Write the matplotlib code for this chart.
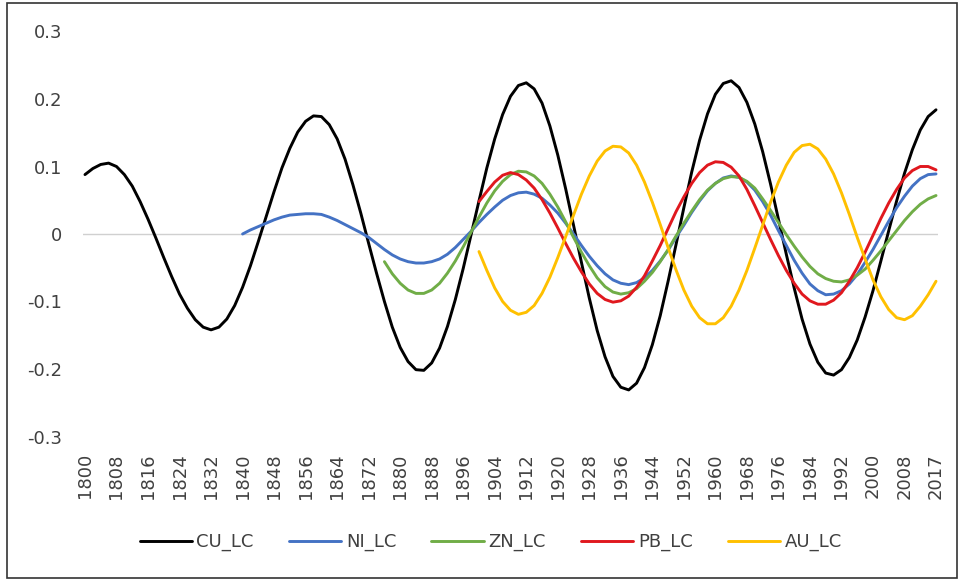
import numpy as np
import matplotlib.pyplot as plt
from matplotlib.patches import Rectangle

# values read every 2 years, series start at the given year
CU_START = 1800
CU_LC = [
    0.088, 0.097, 0.103, 0.105, 0.100, 0.088, 0.071, 0.048, 0.022, -0.006,
    -0.035, -0.063, -0.089, -0.110, -0.127, -0.138, -0.142, -0.138, -0.126, -0.106,
    -0.079, -0.047, -0.011, 0.026, 0.063, 0.098, 0.127, 0.151, 0.167, 0.175,
    0.174, 0.162, 0.141, 0.111, 0.073, 0.031, -0.014, -0.058, -0.100, -0.138,
    -0.168, -0.189, -0.201, -0.202, -0.191, -0.169, -0.137, -0.097, -0.051, -0.001,
    0.049, 0.098, 0.141, 0.177, 0.204, 0.220, 0.224, 0.215, 0.194, 0.160,
    0.117, 0.067, 0.013, -0.042, -0.095, -0.143, -0.182, -0.211, -0.227, -0.231,
    -0.221, -0.198, -0.164, -0.121, -0.070, -0.016, 0.039, 0.092, 0.139, 0.178,
    0.207, 0.223, 0.227, 0.217, 0.195, 0.163, 0.122, 0.074, 0.022, -0.030,
    -0.080, -0.126, -0.163, -0.190, -0.206, -0.209, -0.201, -0.183, -0.157, -0.123,
    -0.084, -0.040, 0.005, 0.049, 0.090, 0.125, 0.154, 0.174, 0.184,
]

NI_START = 1840
NI_LC = [
    0.000, 0.006, 0.011, 0.016, 0.021, 0.025, 0.028, 0.029, 0.030, 0.030,
    0.029, 0.025, 0.020, 0.014, 0.008, 0.002, -0.005, -0.014, -0.023, -0.031,
    -0.037, -0.041, -0.043, -0.043, -0.041, -0.037, -0.030, -0.020, -0.008, 0.004,
    0.017, 0.029, 0.040, 0.050, 0.057, 0.061, 0.062, 0.059, 0.053, 0.043,
    0.031, 0.016, 0.000, -0.017, -0.033, -0.047, -0.059, -0.068, -0.073, -0.075,
    -0.072, -0.065, -0.054, -0.040, -0.024, -0.005, 0.013, 0.032, 0.049, 0.064,
    0.075, 0.083, 0.086, 0.084, 0.077, 0.065, 0.048, 0.028, 0.005, -0.017,
    -0.039, -0.058, -0.074, -0.084, -0.090, -0.089, -0.084, -0.074, -0.060, -0.042,
    -0.023, -0.002, 0.019, 0.039, 0.056, 0.071, 0.082, 0.088, 0.089,
]

ZN_START = 1876
ZN_LC = [
    -0.041, -0.059,
    -0.073, -0.083, -0.088, -0.088, -0.083, -0.073, -0.058, -0.040, -0.019, 0.003,
    0.025, 0.046, 0.064, 0.078, 0.088, 0.093, 0.092, 0.086, 0.075, 0.059,
    0.040, 0.018, -0.005, -0.027, -0.047, -0.065, -0.078, -0.086, -0.089, -0.087,
    -0.081, -0.070, -0.057, -0.041, -0.023, -0.003, 0.016, 0.034, 0.051, 0.065,
    0.075, 0.082, 0.085, 0.084, 0.078, 0.068, 0.052, 0.035, 0.017, -0.001,
    -0.018, -0.034, -0.048, -0.059, -0.066, -0.070, -0.071, -0.068, -0.061, -0.052,
    -0.039, -0.025, -0.010, 0.005, 0.020, 0.033, 0.044, 0.052, 0.057,
]

PB_START = 1900
PB_LC = [
    0.048, 0.063, 0.077, 0.087, 0.091, 0.088, 0.080, 0.068, 0.051, 0.031,
    0.009, -0.014, -0.036, -0.056, -0.074, -0.088, -0.097, -0.101, -0.099, -0.092,
    -0.079, -0.062, -0.040, -0.017, 0.008, 0.033, 0.055, 0.075, 0.091, 0.102,
    0.107, 0.106, 0.099, 0.086, 0.066, 0.042, 0.017, -0.008, -0.032, -0.054,
    -0.073, -0.089, -0.099, -0.104, -0.104, -0.098, -0.087, -0.070, -0.050, -0.027,
    -0.002, 0.023, 0.046, 0.066, 0.083, 0.094, 0.100, 0.100, 0.095,
]

AU_START = 1900
AU_LC = [
    -0.026, -0.054, -0.080, -0.100, -0.113, -0.119, -0.116, -0.106, -0.088, -0.064,
    -0.035, -0.004, 0.028, 0.059, 0.086, 0.108, 0.123, 0.130, 0.129, 0.120,
    0.102, 0.077, 0.047, 0.014, -0.020, -0.053, -0.083, -0.107, -0.124, -0.133,
    -0.133, -0.124, -0.107, -0.083, -0.054, -0.021, 0.013, 0.047, 0.077, 0.102,
    0.121, 0.131, 0.133, 0.126, 0.111, 0.089, 0.061, 0.029, -0.005, -0.037,
    -0.068, -0.093, -0.112, -0.124, -0.127, -0.121, -0.107, -0.090, -0.070,
]

XTICK_YEARS = list(range(1800, 2017, 8))
XTICK_LABELS = [str(y) for y in range(1800, 2009, 8)] + ["2017"]
YTICKS = [-0.3, -0.2, -0.1, 0, 0.1, 0.2, 0.3]
YTICK_LABELS = ["-0.3", "-0.2", "-0.1", "0", "0.1", "0.2", "0.3"]

SERIES = [
    ("CU_LC", CU_START, CU_LC, "#000000"),
    ("NI_LC", NI_START, NI_LC, "#4472C4"),
    ("ZN_LC", ZN_START, ZN_LC, "#70AD47"),
    ("PB_LC", PB_START, PB_LC, "#E0181E"),
    ("AU_LC", AU_START, AU_LC, "#FFC000"),
]

text_color = "#404040"

fig = plt.figure(figsize=(9.64, 5.80), dpi=100)
ax = fig.add_axes([83 / 964, 1 - 436.5 / 580, 855 / 964, 405 / 580])

ax.axhline(0, color="#d0d0d0", lw=1.0, zorder=0)

for name, start, vals, color in SERIES:
    x = np.arange(start, start + 2 * len(vals), 2)
    ax.plot(x, vals, color=color, lw=2.1, label=name,
            solid_joinstyle="round", solid_capstyle="round")

ax.set_xlim(1799.5, 2016.5)
ax.set_ylim(-0.3, 0.3)
ax.set_xticks(XTICK_YEARS)
ax.set_xticklabels(XTICK_LABELS, rotation=90)
ax.set_yticks(YTICKS)
ax.set_yticklabels(YTICK_LABELS)
ax.tick_params(axis="both", length=0, labelsize=13, labelcolor=text_color)
ax.tick_params(axis="x", pad=12)
ax.tick_params(axis="y", pad=15)
for s in ax.spines.values():
    s.set_visible(False)

leg = fig.legend(loc="center", bbox_to_anchor=(0.509, 0.0655), ncol=5,
                 frameon=False, fontsize=13, handlelength=2.9,
                 handletextpad=0.25, columnspacing=1.95)
for t in leg.get_texts():
    t.set_color(text_color)

# chart border
fig.patches.append(Rectangle((7 / 964, 2 / 580), 950 / 964, 575 / 580,
                             transform=fig.transFigure, fill=False,
                             edgecolor="#333333", lw=1.2))

fig.savefig("out.png", dpi=100)
